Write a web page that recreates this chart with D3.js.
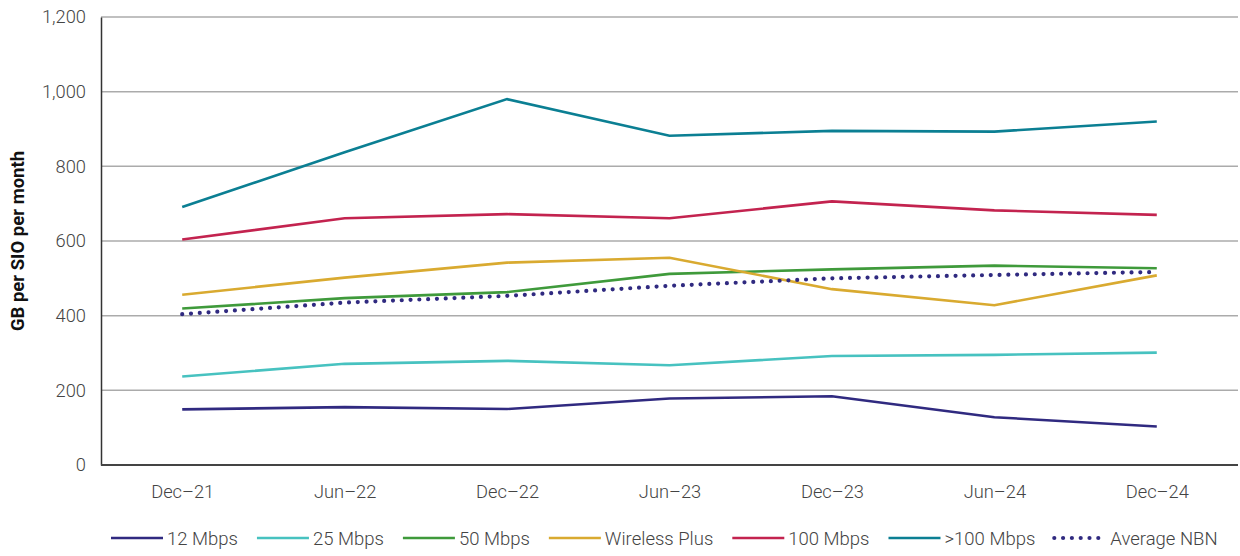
<!DOCTYPE html>
<html lang="en">
<head>
<meta charset="utf-8">
<title>GB per SIO per month</title>
<script src="https://d3js.org/d3.v7.min.js"></script>
<style>
  body { margin: 0; background: #fff; }
  svg text { font-family: Roboto, "Noto Sans", sans-serif; fill: #444; }
  .tick text { font-size: 18.3px; font-weight: 300; }
  .axis-title { font-size: 18.5px; font-weight: 700; fill: #111; }
  .legend text { font-size: 18.5px; font-weight: 300; }
</style>
</head>
<body>
<div id="chart"></div>
<script>
var width = 1240, height = 556;

var periods = ["Dec\u201321", "Jun\u201322", "Dec\u201322", "Jun\u201323", "Dec\u201323", "Jun\u201324", "Dec\u201324"];
var yTicks = [0, 200, 400, 600, 800, 1000, 1200];

var mbps12   = [149, 155, 150, 178, 184, 128, 103];
var mbps25   = [237, 271, 279, 267, 292, 295, 301];
var mbps50   = [419, 447, 463, 512, 524, 534, 527];
var wireless = [456, 502, 542, 555, 471, 428, 508];
var mbps100  = [604, 661, 672, 661, 706, 682, 670];
var mbpsOver = [691, 838, 980, 882, 895, 893, 920];
var avgNbn   = [404, 435, 453, 480, 500, 509, 517];

var series = [
  {name: "12 Mbps", values: mbps12, color: "#302a80"},
  {name: "25 Mbps", values: mbps25, color: "#47c2c0"},
  {name: "50 Mbps", values: mbps50, color: "#3f9a3b"},
  {name: "Wireless Plus", values: wireless, color: "#d9aa30"},
  {name: "100 Mbps", values: mbps100, color: "#c3234f"},
  {name: ">100 Mbps", values: mbpsOver, color: "#0b7f93"},
  {name: "Average NBN", values: avgNbn, color: "#302a80", dotted: true}
];

var margin = {top: 17, right: 2, bottom: 91, left: 101};

var svg = d3.select("#chart").append("svg")
  .attr("width", width)
  .attr("height", height);

var x = d3.scalePoint()
  .domain(periods)
  .range([margin.left, width - margin.right])
  .padding(0.5);

var y = d3.scaleLinear()
  .domain([0, 1200])
  .range([height - margin.bottom, margin.top]);

// gridlines
svg.append("g").selectAll("line")
  .data(yTicks.filter(d => d > 0))
  .enter().append("line")
  .attr("x1", margin.left).attr("x2", width - margin.right)
  .attr("y1", d => y(d)).attr("y2", d => y(d))
  .attr("stroke", "#ababab").attr("stroke-width", 1.5);

// y axis
var yAxis = svg.append("g")
  .attr("transform", "translate(" + margin.left + ",0)")
  .call(d3.axisLeft(y).tickValues(yTicks).tickSize(0).tickPadding(15).tickFormat(d3.format(",")));
yAxis.select(".domain").attr("stroke", "#333").attr("stroke-width", 1.5);

// x axis
var xAxis = svg.append("g")
  .attr("transform", "translate(0," + y(0) + ")")
  .call(d3.axisBottom(x).tickSize(0).tickPadding(20));
xAxis.select(".domain").attr("stroke", "#444").attr("stroke-width", 2)
  .attr("d", "M" + margin.left + ",0H" + (width - margin.right));

svg.append("text")
  .attr("class", "axis-title")
  .attr("transform", "translate(24," + y(600) + ") rotate(-90)")
  .attr("text-anchor", "middle")
  .text("GB per SIO per month");

var line = d3.line()
  .x((d, i) => x(periods[i]))
  .y(d => y(d));

svg.append("g").selectAll("path")
  .data(series)
  .enter().append("path")
  .attr("d", d => line(d.values))
  .attr("fill", "none")
  .attr("stroke", d => d.color)
  .attr("stroke-width", d => d.dotted ? 4.2 : 2.6)
  .attr("stroke-linecap", d => d.dotted ? "round" : "butt")
  .attr("stroke-dasharray", d => d.dotted ? "0 8.8" : null);

// legend
var legend = svg.append("g").attr("class", "legend");
var lx = 111, ly = 538;
series.forEach(function(s) {
  var item = legend.append("g");
  item.append("line")
    .attr("x1", lx).attr("x2", lx + 52)
    .attr("y1", ly).attr("y2", ly)
    .attr("stroke", s.color)
    .attr("stroke-width", s.dotted ? 4.2 : 2.6)
    .attr("stroke-linecap", s.dotted ? "round" : "butt")
    .attr("stroke-dasharray", s.dotted ? "0 8.8" : null);
  var t = item.append("text")
    .attr("x", lx + 56).attr("y", ly + 6.5)
    .text(s.name);
  lx += 56 + t.node().getComputedTextLength() + 19;
});
</script>
</body>
</html>
